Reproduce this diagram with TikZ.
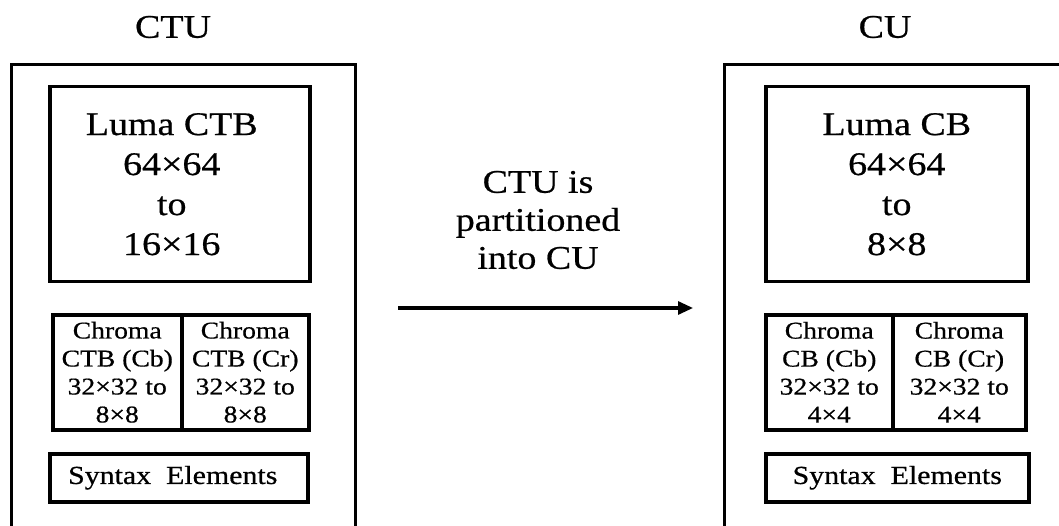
\documentclass[tikz,border=0pt]{standalone}
\usepackage{fontspec}
\setmainfont[FakeStretch=1.15,FakeBold=0.6]{Liberation Serif}
\usetikzlibrary{arrows.meta}
\tikzset{
  outerbox/.style={draw, line width=3pt, rectangle, inner sep=0pt, anchor=north west},
  blockbox/.style={draw, line width=3.5pt, rectangle, inner sep=0pt, anchor=north west, align=center},
  bigtext/.style={font=\fontsize{33}{40}\selectfont},
  chromatext/.style={font=\fontsize{24}{28}\selectfont},
  syntaxtext/.style={font=\fontsize{26}{30}\selectfont},
  arr/.style={line width=3pt, -{Triangle[length=15pt,width=13pt]}}
}
\begin{document}
\begin{tikzpicture}[x=1pt,y=-1pt]
\useasboundingbox (0,0) rectangle (1059,526);
\clip (0,0) rectangle (1059,526);

% titles
\node[bigtext] (ctutitle) at (173,27) {CTU};
\node[bigtext] (cutitle) at (885,27) {CU};

% CTU side
\node[outerbox, minimum width=344pt, minimum height=540pt] (ctu) at (10,63) {};
\node[blockbox, minimum width=260pt, minimum height=195pt] (lumactb) at (48,85) {};
\node[bigtext, align=center] (lumactbtext) at ([xshift=-8pt]lumactb.center)
  {Luma CTB\\64×64\\to\\16×16};
\node[blockbox, chromatext, minimum width=129pt, minimum height=115pt] (ctbcb) at (51,313)
  {Chroma\\CTB (Cb)\\32×32 to\\8×8};
\node[blockbox, chromatext, minimum width=127pt, minimum height=115pt] (ctbcr) at (180,313)
  {Chroma\\CTB (Cr)\\32×32 to\\8×8};
\node[blockbox, minimum width=258pt, minimum height=48pt] (ctusyn) at (48,452) {};
\node[syntaxtext] (ctusyntext) at ([xshift=-6pt]ctusyn.center) {Syntax\ \ Elements};

% CU side
\node[outerbox, minimum width=400pt, minimum height=540pt] (cu) at (723,63) {};
\node[blockbox, bigtext, minimum width=262pt, minimum height=195pt] (lumacb) at (764,85)
  {Luma CB\\64×64\\to\\8×8};
\node[blockbox, chromatext, minimum width=127pt, minimum height=115pt] (cbcb) at (764,313)
  {Chroma\\CB (Cb)\\32×32 to\\4×4};
\node[blockbox, chromatext, minimum width=133pt, minimum height=115pt] (cbcr) at (891,313)
  {Chroma\\CB (Cr)\\32×32 to\\4×4};
\node[blockbox, syntaxtext, minimum width=263pt, minimum height=48pt] (cusyn) at (764,452)
  {Syntax\ \ Elements};

% partition arrow and its label
\coordinate (mid) at (540,308);
\node[align=center, font=\fontsize{33}{38}\selectfont] (label) at (538,220)
  {CTU is\\partitioned\\into CU};
\draw[arr, shorten <=41pt, shorten >=30pt] (ctu.east |- mid) -- (cu.west |- mid);
\end{tikzpicture}
\end{document}
